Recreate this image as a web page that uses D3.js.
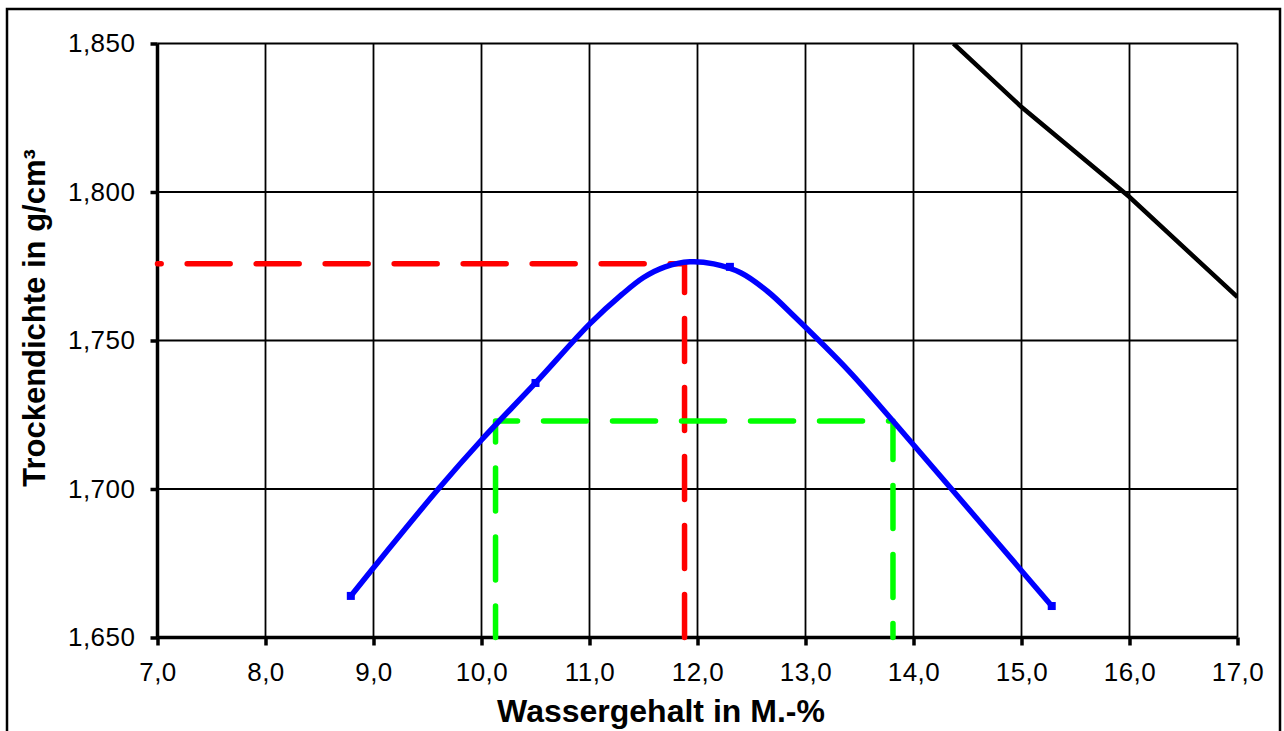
<!DOCTYPE html>
<html><head><meta charset="utf-8">
<script src="https://cdn.jsdelivr.net/npm/d3@7"></script>
<style>
html,body{margin:0;padding:0;background:#fff;}
svg{display:block;}
text{font-family:"Liberation Sans",Arial,sans-serif;fill:#000;}
</style></head>
<body>
<svg id="chart" width="1284" height="731"></svg>
<script>
// ---- data ----
const xTickValues = [7,8,9,10,11,12,13,14,15,16,17];
const xTickLabels = ["7,0","8,0","9,0","10,0","11,0","12,0","13,0","14,0","15,0","16,0","17,0"];
const yTickValues = [1.65,1.70,1.75,1.80,1.85];
const yTickLabels = ["1,650","1,700","1,750","1,800","1,850"];

// Proctor curve
const curveW = [8.79,   9.0,    9.6,    10.0,   10.5,   11.0,   11.3,   11.5,   11.7,   11.93,  12.15,  12.4,   12.65,  12.9,   13.4,   13.81,  14.34,  15.0,   15.28];
const curveD = [1.6640, 1.6735, 1.7000, 1.7165, 1.7357, 1.7555, 1.7655, 1.7712, 1.7748, 1.7765, 1.7758, 1.7728, 1.7665, 1.7580, 1.7398, 1.7229, 1.7005, 1.6725, 1.6606];
// Measured points (small square markers)
const measW = [8.79, 10.5, 12.3, 15.28];
const measD = [1.6640, 1.7357, 1.7748, 1.6606];
// Saturation line (black)
const satW = [14.37, 15.0, 16.0, 17.0];
const satD = [1.850, 1.8286, 1.7983, 1.7646];
// Optimum (red) and range (green)
const optW = 11.88, optD = 1.7758;
const rangeW = [10.13, 13.81], rangeD = 1.7229;

const xTitle = "Wassergehalt in M.-%";
const yTitle = "Trockendichte in g/cm³";

// ---- layout ----
const svg = d3.select("#chart");
const L = 157.5, R = 1237.5, T = 43.5, B = 637.5;
const x = d3.scaleLinear().domain([7,17]).range([L,R]);
const y = d3.scaleLinear().domain([1.65,1.85]).range([B,T]);

// outer frame
svg.append("rect").attr("x",7).attr("y",9).attr("width",1273).attr("height",760)
  .attr("fill","none").attr("stroke","#000").attr("stroke-width",2.5);

// clip
svg.append("defs").append("clipPath").attr("id","plot")
  .append("rect").attr("x",L).attr("y",T).attr("width",R-L).attr("height",B-T);

// grid
const g = svg.append("g");
g.selectAll(".vg").data(xTickValues.slice(1)).join("line")
  .attr("x1",d=>x(d)).attr("x2",d=>x(d)).attr("y1",T).attr("y2",B)
  .attr("stroke","#000").attr("stroke-width",1.8);
g.selectAll(".hg").data(yTickValues.slice(1)).join("line")
  .attr("x1",L).attr("x2",R).attr("y1",d=>y(d)).attr("y2",d=>y(d))
  .attr("stroke","#000").attr("stroke-width",1.8);

// axes
const fmtX = d => xTickLabels[xTickValues.indexOf(d)];
const fmtY = d => yTickLabels[yTickValues.findIndex(v=>Math.abs(v-d)<1e-9)];
const ax = svg.append("g").attr("transform",`translate(0,${B})`)
  .call(d3.axisBottom(x).tickValues(xTickValues).tickFormat(fmtX).tickSize(8).tickPadding(17));
const ay = svg.append("g").attr("transform",`translate(${L},0)`)
  .call(d3.axisLeft(y).tickValues(yTickValues).tickFormat(fmtY).tickSize(7).tickPadding(15));
[ax,ay].forEach(a=>{
  a.select(".domain").attr("stroke","#000").attr("stroke-width",3.5);
  a.selectAll(".tick line").attr("stroke","#000").attr("stroke-width",3.5);
  a.selectAll("text").style("font-family","'Liberation Sans',Arial,sans-serif")
    .style("font-size","26px").style("letter-spacing","0.5px").attr("fill","#000");
});
ax.select(".domain").attr("d",`M${L},0H${R}`);
ay.select(".domain").attr("d",`M0,${B}V${T}`);
ax.selectAll(".tick text").attr("dy","0.71em");

// lines
const plot = svg.append("g").attr("clip-path","url(#plot)");
const line = d3.line().x(d=>x(d[0])).y(d=>y(d[1]));

// black saturation line
plot.append("path").datum(satW.map((w,i)=>[w,satD[i]]))
  .attr("d",line).attr("fill","none").attr("stroke","#000").attr("stroke-width",4.5);

// red dashed optimum
svg.append("path").datum([[optW,1.65],[optW,optD],[7,optD]])
  .attr("d",line).attr("fill","none").attr("stroke","#ff0000").attr("stroke-width",5.5)
  .attr("stroke-linecap","round").attr("stroke-linejoin","round")
  .attr("stroke-dasharray","43,26");

// green dashed range
svg.append("path").datum([[rangeW[0],1.65],[rangeW[0],rangeD],[rangeW[1],rangeD],[rangeW[1],1.65]])
  .attr("d",line).attr("fill","none").attr("stroke","#00ff00").attr("stroke-width",5.5)
  .attr("stroke-linecap","round").attr("stroke-linejoin","round")
  .attr("stroke-dasharray","43,26").attr("stroke-dashoffset",11.5);

// blue Proctor curve
const curveLine = d3.line().x(d=>x(d[0])).y(d=>y(d[1])).curve(d3.curveCatmullRom.alpha(0.5));
svg.append("path").datum(curveW.map((w,i)=>[w,curveD[i]]))
  .attr("d",curveLine).attr("fill","none").attr("stroke","#0000ff").attr("stroke-width",5.5)
  .attr("stroke-linejoin","round");
svg.selectAll(".mk").data(measW.map((w,i)=>[w,measD[i]])).join("rect")
  .attr("x",d=>x(d[0])-4).attr("y",d=>y(d[1])-4).attr("width",8).attr("height",8)
  .attr("fill","#0000ff");

// titles
svg.append("text").attr("x",661).attr("y",722).attr("text-anchor","middle")
  .style("font-size","32px").style("font-weight","bold").text(xTitle);
svg.append("text").attr("transform",`translate(45,318) rotate(-90)`).attr("text-anchor","middle")
  .style("font-size","31px").style("font-weight","bold").text(yTitle);
</script>
</body></html>
